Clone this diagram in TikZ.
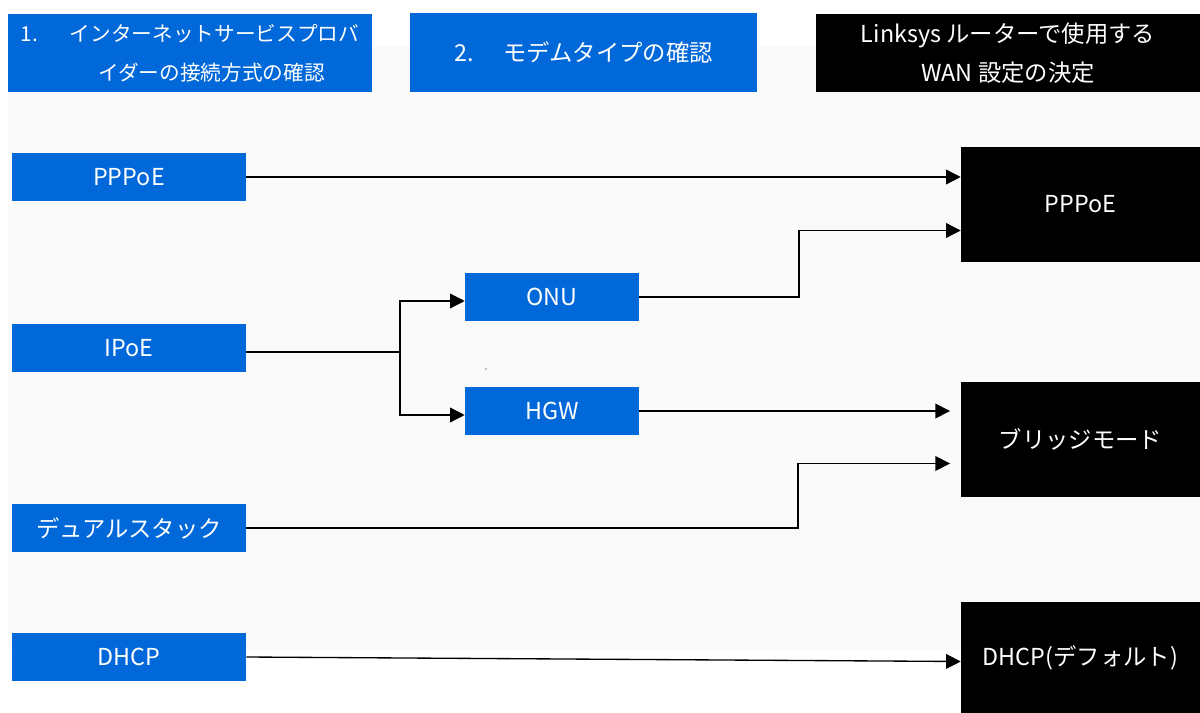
\documentclass[tikz,border=0pt]{standalone}
\usepackage{fontspec}
\setmainfont{Noto Sans CJK JP}
\usetikzlibrary{arrows.meta}
\definecolor{ispblue}{HTML}{0068D9}
\definecolor{paper}{HTML}{FAFAFA}
\begin{document}
\begin{tikzpicture}[x=0.75pt,y=-0.75pt,
    box/.style={rectangle,inner sep=0pt,text=white,font=\fontsize{17.5}{29}\selectfont},
    isp/.style={box,fill=ispblue,minimum width=175.5pt,minimum height=36pt},
    modem/.style={box,fill=ispblue,minimum width=130.5pt,minimum height=36pt},
    wan/.style={box,fill=black,minimum width=179.25pt},
    link/.style={line width=1pt,-{Triangle[length=11pt,width=11pt]}}]
    \useasboundingbox (0,0) rectangle (1200,713);
    \fill[paper] (8,47) rectangle (1200,649);
    \node[box,fill=ispblue,minimum width=273pt,minimum height=58.5pt,align=left,font=\fontsize{15.5}{29}\selectfont] (h1) at (190,53)
        {\makebox[36.75pt][l]{1.}インターネットサービスプロバ\\\hspace*{58pt}イダーの接続方式の確認};
    \node[box,fill=ispblue,minimum width=260.25pt,minimum height=59.25pt] (h2) at (583.5,52.5)
        {\makebox[36.75pt][l]{2.}モデムタイプの確認};
    \node[box,fill=black,minimum width=288pt,minimum height=58.5pt,align=center] (h3) at (1008,53)
        {Linksys ルーターで使用する\\WAN 設定の決定};
    \foreach \name/\y/\txt in {ppp1/177/PPPoE,ipoe/348/IPoE,dual/528/デュアルスタック,dhcp/657/DHCP}{
        \node[isp] (\name) at (129,\y) {\txt};
    }
    \node[modem] (onu) at (552,297) {ONU};
    \node[modem] (hgw) at (552,411) {HGW};
    \foreach \name/\y/\h/\txt in {r1/204.5/86.25pt/PPPoE,r2/439.5/86.25pt/ブリッジモード,r3/657.5/83.25pt/DHCP(デフォルト)}{
        \node[wan,minimum height=\h] (\name) at (1080.5,\y) {\txt};
    }
    \coordinate (sp) at (400,352);
    \coordinate (s1) at (799,0);
    \coordinate (s2) at (798,0);
    \fill (486,369) circle (0.5pt);
    \draw[link] (ppp1.east) -- (ppp1.east -| r1.west);
    \draw[line width=1pt] ([yshift=-3pt]ipoe.east) -- (sp);
    \draw[link] (sp) |- ([yshift=-3pt]onu.west);
    \draw[link] (sp) |- ([yshift=-3pt]hgw.west);
    \draw[link] (onu.east) -- (onu.east -| s1) |- ([yshift=-19.5pt]r1.west);
    \draw[link] (hgw.east) -- ([xshift=-8pt]hgw.east -| r2.west);
    \draw[link] (dual.east) -- (dual.east -| s2) |- ([xshift=-8pt,yshift=-18pt]r2.west);
    \draw[link] (dhcp.east) -- ([yshift=-3pt]r3.west);
\end{tikzpicture}
\end{document}
